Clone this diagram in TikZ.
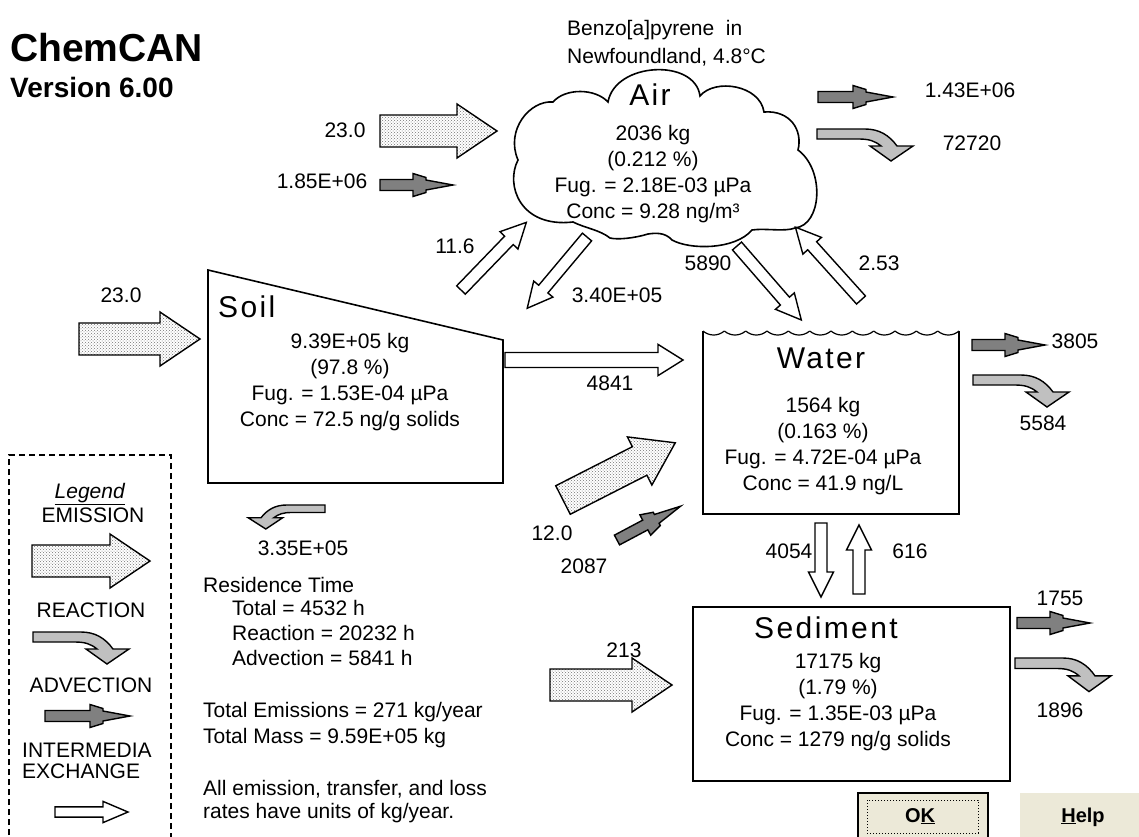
\documentclass[tikz,border=0pt]{standalone}
\usepackage{fontspec}
\setmainfont{Liberation Sans}
\usepackage{xcolor}
\usetikzlibrary{patterns}
\definecolor{Ink}{HTML}{000000}
\definecolor{ReacGray}{HTML}{C0C0C0}
\definecolor{AdvGray}{HTML}{808080}
\definecolor{BtnFace}{HTML}{ECE9D8}
\tikzset{
  compline/.style={draw=Ink,line width=1.6pt,line join=miter},
  complabel/.style={font=\fontsize{30}{36}\selectfont\addfontfeature{LetterSpace=8},inner sep=0pt},
  comptext/.style={font=\fontsize{21}{26}\selectfont,align=center,inner sep=0pt,anchor=north},
  rate/.style={font=\fontsize{21}{26}\selectfont,inner sep=0pt,anchor=base},
  sidetext/.style={font=\fontsize{21}{26}\selectfont,inner sep=0pt,anchor=base west},
  legendframe/.style={draw=Ink,line width=1.4pt,dash pattern=on 6pt off 4pt},
  emisfill/.style={draw=Ink,line width=1.4pt,line join=miter,preaction={fill=white},pattern=crosshatch dots,pattern color=Ink!55},
  reacfill/.style={draw=Ink,line width=1.4pt,line join=miter,fill=ReacGray},
  advfill/.style={draw=Ink,line width=1.4pt,line join=miter,fill=AdvGray},
  exchfill/.style={draw=Ink,line width=1.4pt,line join=miter,fill=white},
  emisflow/.pic={\path[emisfill] (0,-16) -- (#1-40,-16) -- (#1-40,-27) -- (#1,0) -- (#1-40,27) -- (#1-40,16) -- (0,16) -- cycle;},
  advflow/.pic={\path[advfill] (0,-5.5) -- (#1-40,-5.5) -- (#1-40,-11.5) -- (#1-27,-7.5) -- (#1-27,-5) -- (#1,0) -- (#1-27,5) -- (#1-27,7.5) -- (#1-40,11.5) -- (#1-40,5.5) -- (0,5.5) -- cycle;},
  exchflow/.pic={\path[exchfill] (0,-6) -- (#1-25,-6) -- (#1-25,-12.5) -- (#1,0) -- (#1-25,12.5) -- (#1-25,6) -- (0,6) -- cycle;},
  reacflow/.pic={\path[reacfill] (0,0) -- (48,0) .. controls (62,0) and (72,6) .. (80,17) -- (96,17) -- (74,32) -- (53,17) -- (64,17) .. controls (58,12) and (52,10) .. (42,10) -- (0,10) -- cycle;}
}

\begin{document}
\begin{tikzpicture}[x=1pt,y=-1pt]
  \useasboundingbox (0,0) rectangle (1139,836);
  % heading
  \node[anchor=base west,inner sep=0pt,font=\fontsize{39}{44}\selectfont\bfseries] (brand) at (10,61) {ChemCAN};
  \node[anchor=base west,inner sep=0pt,font=\fontsize{28}{32}\selectfont\bfseries] (version) at (10,97) {Version 6.00};
  \node[sidetext] (chemical) at (567,35) {Benzo[a]pyrene\ \ in};
  \node[sidetext] (region) at (567,63) {Newfoundland, 4.8°C};

  % air
  \draw[compline] (573,222) .. controls (520,228) and (505,185) .. (518,160)
    .. controls (505,130) and (530,100) .. (553,102)
    .. controls (565,88) and (595,88) .. (608,102)
    .. controls (615,62) and (695,58) .. (700,96)
    .. controls (715,78) and (760,85) .. (764,112)
    .. controls (790,110) and (803,130) .. (798,150)
    .. controls (825,170) and (822,225) .. (795,228)
    .. controls (785,232) and (765,228) .. (752,230)
    .. controls (735,250) and (690,250) .. (672,240)
    .. controls (665,232) and (655,233) .. (648,234)
    .. controls (635,238) and (618,240) .. (610,238)
    .. controls (600,230) and (585,228) .. (573,222) -- cycle;
  \node[complabel,anchor=base] (airname) at (650,105) {Air};
  \node[comptext] (air) at (653,125) {2036 kg\\(0.212 \%)\\Fug. = 2.18E-03 µPa\\Conc = 9.28 ng/m³};

  % soil
  \draw[compline] (208,270) -- (503,340) -- (503,483) -- (208,483) -- cycle;
  \node[complabel,anchor=base west] (soilname) at (218,317) {Soil};
  \node[comptext] (soil) at (350,333) {9.39E+05 kg\\(97.8 \%)\\Fug. = 1.53E-04 µPa\\Conc = 72.5 ng/g solids};

  % water
  \draw[compline] (703,331) -- (703,514) -- (959,514) -- (959,331);
  \foreach \i in {0,...,11}
    \draw[compline,line width=1.2pt] ({703+\i*21.333},331) to[bend right=40] ({703+(\i+1)*21.333},331);
  \node[complabel,anchor=base] (watername) at (821,368) {Water};
  \node[comptext] (water) at (823,397) {1564 kg\\(0.163 \%)\\Fug. = 4.72E-04 µPa\\Conc = 41.9 ng/L};

  % sediment
  \draw[compline] (693,607) rectangle (1010,781);
  \node[complabel,anchor=base] (sedname) at (826,638) {Sediment};
  \node[comptext] (sediment) at (838,653) {17175 kg\\(1.79 \%)\\Fug. = 1.35E-03 µPa\\Conc = 1279 ng/g solids};

  % air flows
  \pic at (380,131) {emisflow=117};
  \node[rate] (airemis) at (345,137) {23.0};
  \pic at (380,185) {advflow=73};
  \node[rate] (airadvin) at (322,188) {1.85E+06};
  \pic at (818,97) {advflow=75};
  \node[rate] (airadvout) at (970,97) {1.43E+06};
  \pic at (817,129) {reacflow};
  \node[rate] (airreac) at (972,150) {72720};

  % intermedia exchange
  \pic[rotate=46] at (461,290) {exchflow=94};
  \node[rate] (soiltoair) at (455,253) {11.6};
  \pic[rotate=230] at (587,237) {exchflow=93};
  \node[rate] (airtosoil) at (617,302) {3.40E+05};
  \pic[rotate=-49] at (737,246) {exchflow=98};
  \node[rate] (airtowater) at (708,270) {5890};
  \pic[rotate=132] at (861,300) {exchflow=98};
  \node[rate] (watertoair) at (879,270) {2.53};
  \pic[yscale=1.25] at (505,360) {exchflow=178};
  \node[rate] (soiltowater) at (610,390) {4841};
  \pic[rotate=-90] at (821,523) {exchflow=74};
  \node[rate] (watertosed) at (789,558) {4054};
  \pic[rotate=90] at (859,594) {exchflow=69};
  \node[rate] (sedtowater) at (910,558) {616};

  % soil flows
  \pic at (79,339) {emisflow=121};
  \node[rate] (soilemis) at (121,302) {23.0};
  \pic[xscale=-0.8,yscale=0.75] at (325,505) {reacflow};
  \node[rate] (soilreac) at (303,555) {3.35E+05};

  % water flows
  \pic[rotate=27] at (563,500) {emisflow=126};
  \node[rate] (wateremis) at (552,540) {12.0};
  \pic[rotate=28] at (617,540) {advflow=72};
  \node[rate] (wateradvin) at (584,573) {2087};
  \pic at (972,345) {advflow=73};
  \node[rate] (wateradvout) at (1075,348) {3805};
  \pic at (973,375) {reacflow};
  \node[rate] (waterreac) at (1043,430) {5584};

  % sediment flows
  \pic at (550,685) {emisflow=122};
  \node[rate] (sedemis) at (624,657) {213};
  \pic at (1017,623) {advflow=73};
  \node[rate] (sedadv) at (1060,605) {1755};
  \pic[yscale=1.05] at (1015,658) {reacflow};
  \node[rate] (sedreac) at (1060,717) {1896};

  % legend
  \draw[legendframe] (9,845) -- (9,455) -- (171,455) -- (171,845);
  \node[rate] (legend) at (90,498) {\underline{\textit{Legend}}};
  \node[rate] (legemis) at (93,522) {EMISSION};
  \pic at (32,561) {emisflow=118};
  \node[rate] (legreac) at (91,617) {REACTION};
  \pic at (33,632) {reacflow};
  \node[rate] (legadv) at (91,692) {ADVECTION};
  \pic at (45,716) {advflow=85};
  \node[sidetext] (legexch) at (22,757) {INTERMEDIA};
  \node[sidetext] (legexchb) at (22,778) {EXCHANGE};
  \pic[yscale=0.85] at (55,812) {exchflow=73};

  % summary
  \node[sidetext] (restime) at (203,592) {Residence Time};
  \node[sidetext] (restotal) at (232,615) {Total = 4532 h};
  \node[sidetext] (resreac) at (232,640) {Reaction = 20232 h};
  \node[sidetext] (resadv) at (232,665) {Advection = 5841 h};
  \node[sidetext] (totemis) at (203,717) {Total Emissions = 271 kg/year};
  \node[sidetext] (totmass) at (203,743) {Total Mass = 9.59E+05 kg};
  \node[sidetext] (units) at (203,795) {All emission, transfer, and loss};
  \node[sidetext] (unitsb) at (203,818) {rates have units of kg/year.};

  % buttons
  \draw[fill=BtnFace,draw=Ink,line width=1.6pt] (858,793) rectangle (988,840);
  \draw[Ink,line width=1pt,dotted] (867,800) rectangle (978,833);
  \node[rate,font=\fontsize{20}{24}\selectfont\bfseries] (okbtn) at (920,822) {O\underline{K}};
  \fill[BtnFace] (1020,793) rectangle (1145,840);
  \node[rate,font=\fontsize{20}{24}\selectfont\bfseries] (helpbtn) at (1083,822) {\underline{H}elp};
\end{tikzpicture}
\end{document}
